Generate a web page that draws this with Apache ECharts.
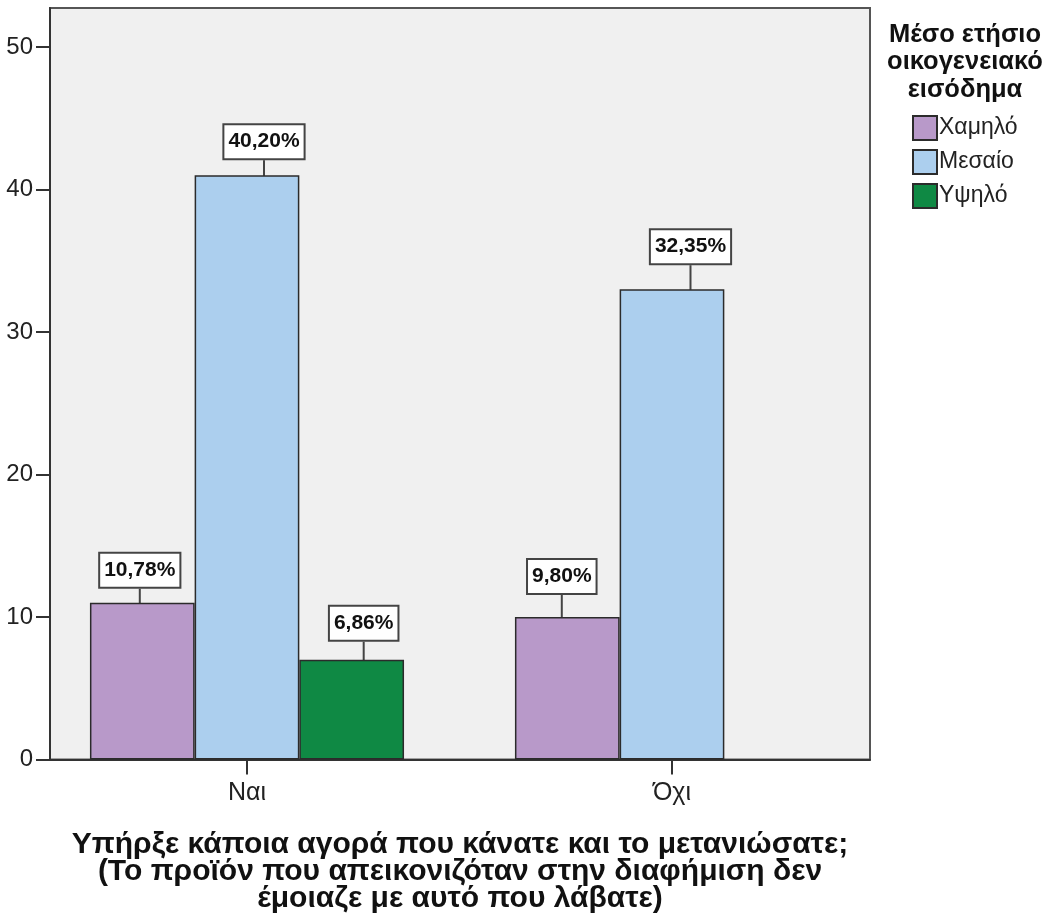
<!DOCTYPE html>
<html>
<head>
<meta charset="utf-8">
<script src="https://cdn.jsdelivr.net/npm/echarts@6/dist/echarts.min.js"></script>
<style>
  html, body { margin: 0; padding: 0; background: #ffffff; }
  #chart { width: 1049px; height: 919px; }
</style>
</head>
<body>
<div id="chart"></div>
<script>
// Purchase regret (yes / no) by average yearly household income — counts per group
const categories = ['Ναι', 'Όχι'];
const incomeGroups = ['Χαμηλό', 'Μεσαίο', 'Υψηλό'];
const lowCounts = [11, 10];
const midCounts = [41, 33];
const highCounts = [7, null];
const yTickValues = [0, 10, 20, 30, 40, 50];

const total = [lowCounts, midCounts, highCounts]
  .reduce((s, arr) => s + arr.reduce((a, v) => a + (v || 0), 0), 0);

// horizontal shift and lift (px) of each value box above its bar
const labelNudge = [
  [[-2.5, 16], [-5.5, 24]],
  [[17, 17], [18.5, 26]],
  [[12, 20], [0, 20]]
];

const colors = ['#b899c9', '#accfee', '#0f8944'];
const axisColor = '#333333';
const fontFamily = 'Liberation Sans, Arial, sans-serif';
const barPx = 104.7;

function pct(v) {
  return (v / total * 100).toFixed(2).replace('.', ',') + '%';
}

function makeSeries(name, values, idx) {
  return {
    name: name,
    type: 'bar',
    barWidth: barPx,
    barGap: '0%',
    data: values.map((v, i) => v == null ? null : [i, v]).filter(d => d),
    itemStyle: { color: colors[idx], borderColor: '#2b2b2b', borderWidth: 1.5 },
    label: {
      show: true,
      position: 'top',
      formatter: p => pct(p.value[1]),
      fontFamily: fontFamily,
      fontSize: 21,
      fontWeight: 'bold',
      color: '#111111',
      lineHeight: 23,
      backgroundColor: '#ffffff',
      borderColor: '#444444',
      borderWidth: 2,
      padding: [5, 4, 5, 4]
    },
    labelLine: { show: true, lineStyle: { color: '#444444', width: 2 } },
    labelLayout: function (p) {
      // find which category this bar belongs to from its centre
      const cat = Math.round(chart.convertFromPixel({ xAxisIndex: 0 }, p.rect.x + p.rect.width / 2 - (idx - 1) * barPx));
      const n = labelNudge[idx][cat] || [0, 18];
      return {
        x: p.rect.x + p.rect.width / 2 + n[0],
        y: p.rect.y - n[1],
        align: 'center',
        verticalAlign: 'bottom'
      };
    }
  };
}

const chart = echarts.init(document.getElementById('chart'), null, { renderer: 'canvas' });

chart.setOption({
  animation: false,
  backgroundColor: '#ffffff',
  textStyle: { fontFamily: fontFamily },
  grid: {
    left: 50, right: 179, top: 8, bottom: 159,
    show: true,
    backgroundColor: '#f0f0f0',
    borderColor: '#555555',
    borderWidth: 2
  },
  xAxis: {
    type: 'value',
    min: -0.4635,
    max: 1.4659,
    axisLine: { show: true, onZero: false, lineStyle: { color: axisColor, width: 2 } },
    axisTick: { show: true, customValues: [0, 1], length: 15, lineStyle: { color: axisColor, width: 2 } },
    axisLabel: {
      customValues: [0, 1],
      formatter: v => categories[Math.round(v)],
      fontSize: 25,
      color: '#222222',
      margin: 21
    },
    splitLine: { show: false },
    name: 'Υπήρξε κάποια αγορά που κάνατε και το μετανιώσατε;\n(Το προϊόν που απεικονιζόταν στην διαφήμιση δεν\nέμοιαζε με αυτό που λάβατε)',
    nameLocation: 'middle',
    nameGap: 72,
    nameTextStyle: {
      fontSize: 30,
      fontWeight: 'bold',
      color: '#111111',
      lineHeight: 27,
      align: 'center'
    }
  },
  yAxis: {
    type: 'value',
    min: 0,
    max: 52.73,
    axisLine: { show: true, onZero: false, lineStyle: { color: axisColor, width: 2 } },
    axisTick: { show: true, customValues: yTickValues, length: 14, lineStyle: { color: axisColor, width: 2 } },
    axisLabel: {
      customValues: yTickValues,
      fontSize: 24,
      color: '#222222',
      margin: 17
    },
    splitLine: { show: false }
  },
  legend: {
    orient: 'vertical',
    left: 907,
    top: 110,
    itemWidth: 24,
    itemHeight: 24,
    itemGap: 8,
    icon: 'rect',
    data: incomeGroups,
    textStyle: { fontSize: 23, lineHeight: 24, color: '#222222', padding: [0, 0, 0, -3] }
  },
  graphic: [{
    type: 'text',
    x: 965,
    y: 21,
    style: {
      text: 'Μέσο ετήσιο\nοικογενειακό\nεισόδημα',
      align: 'center',
      fontFamily: fontFamily,
      fontSize: 25.5,
      fontWeight: 'bold',
      lineHeight: 27.5,
      fill: '#111111'
    }
  }],
  series: [
    makeSeries(incomeGroups[0], lowCounts, 0),
    makeSeries(incomeGroups[1], midCounts, 1),
    makeSeries(incomeGroups[2], highCounts, 2)
  ]
});
</script>
</body>
</html>
